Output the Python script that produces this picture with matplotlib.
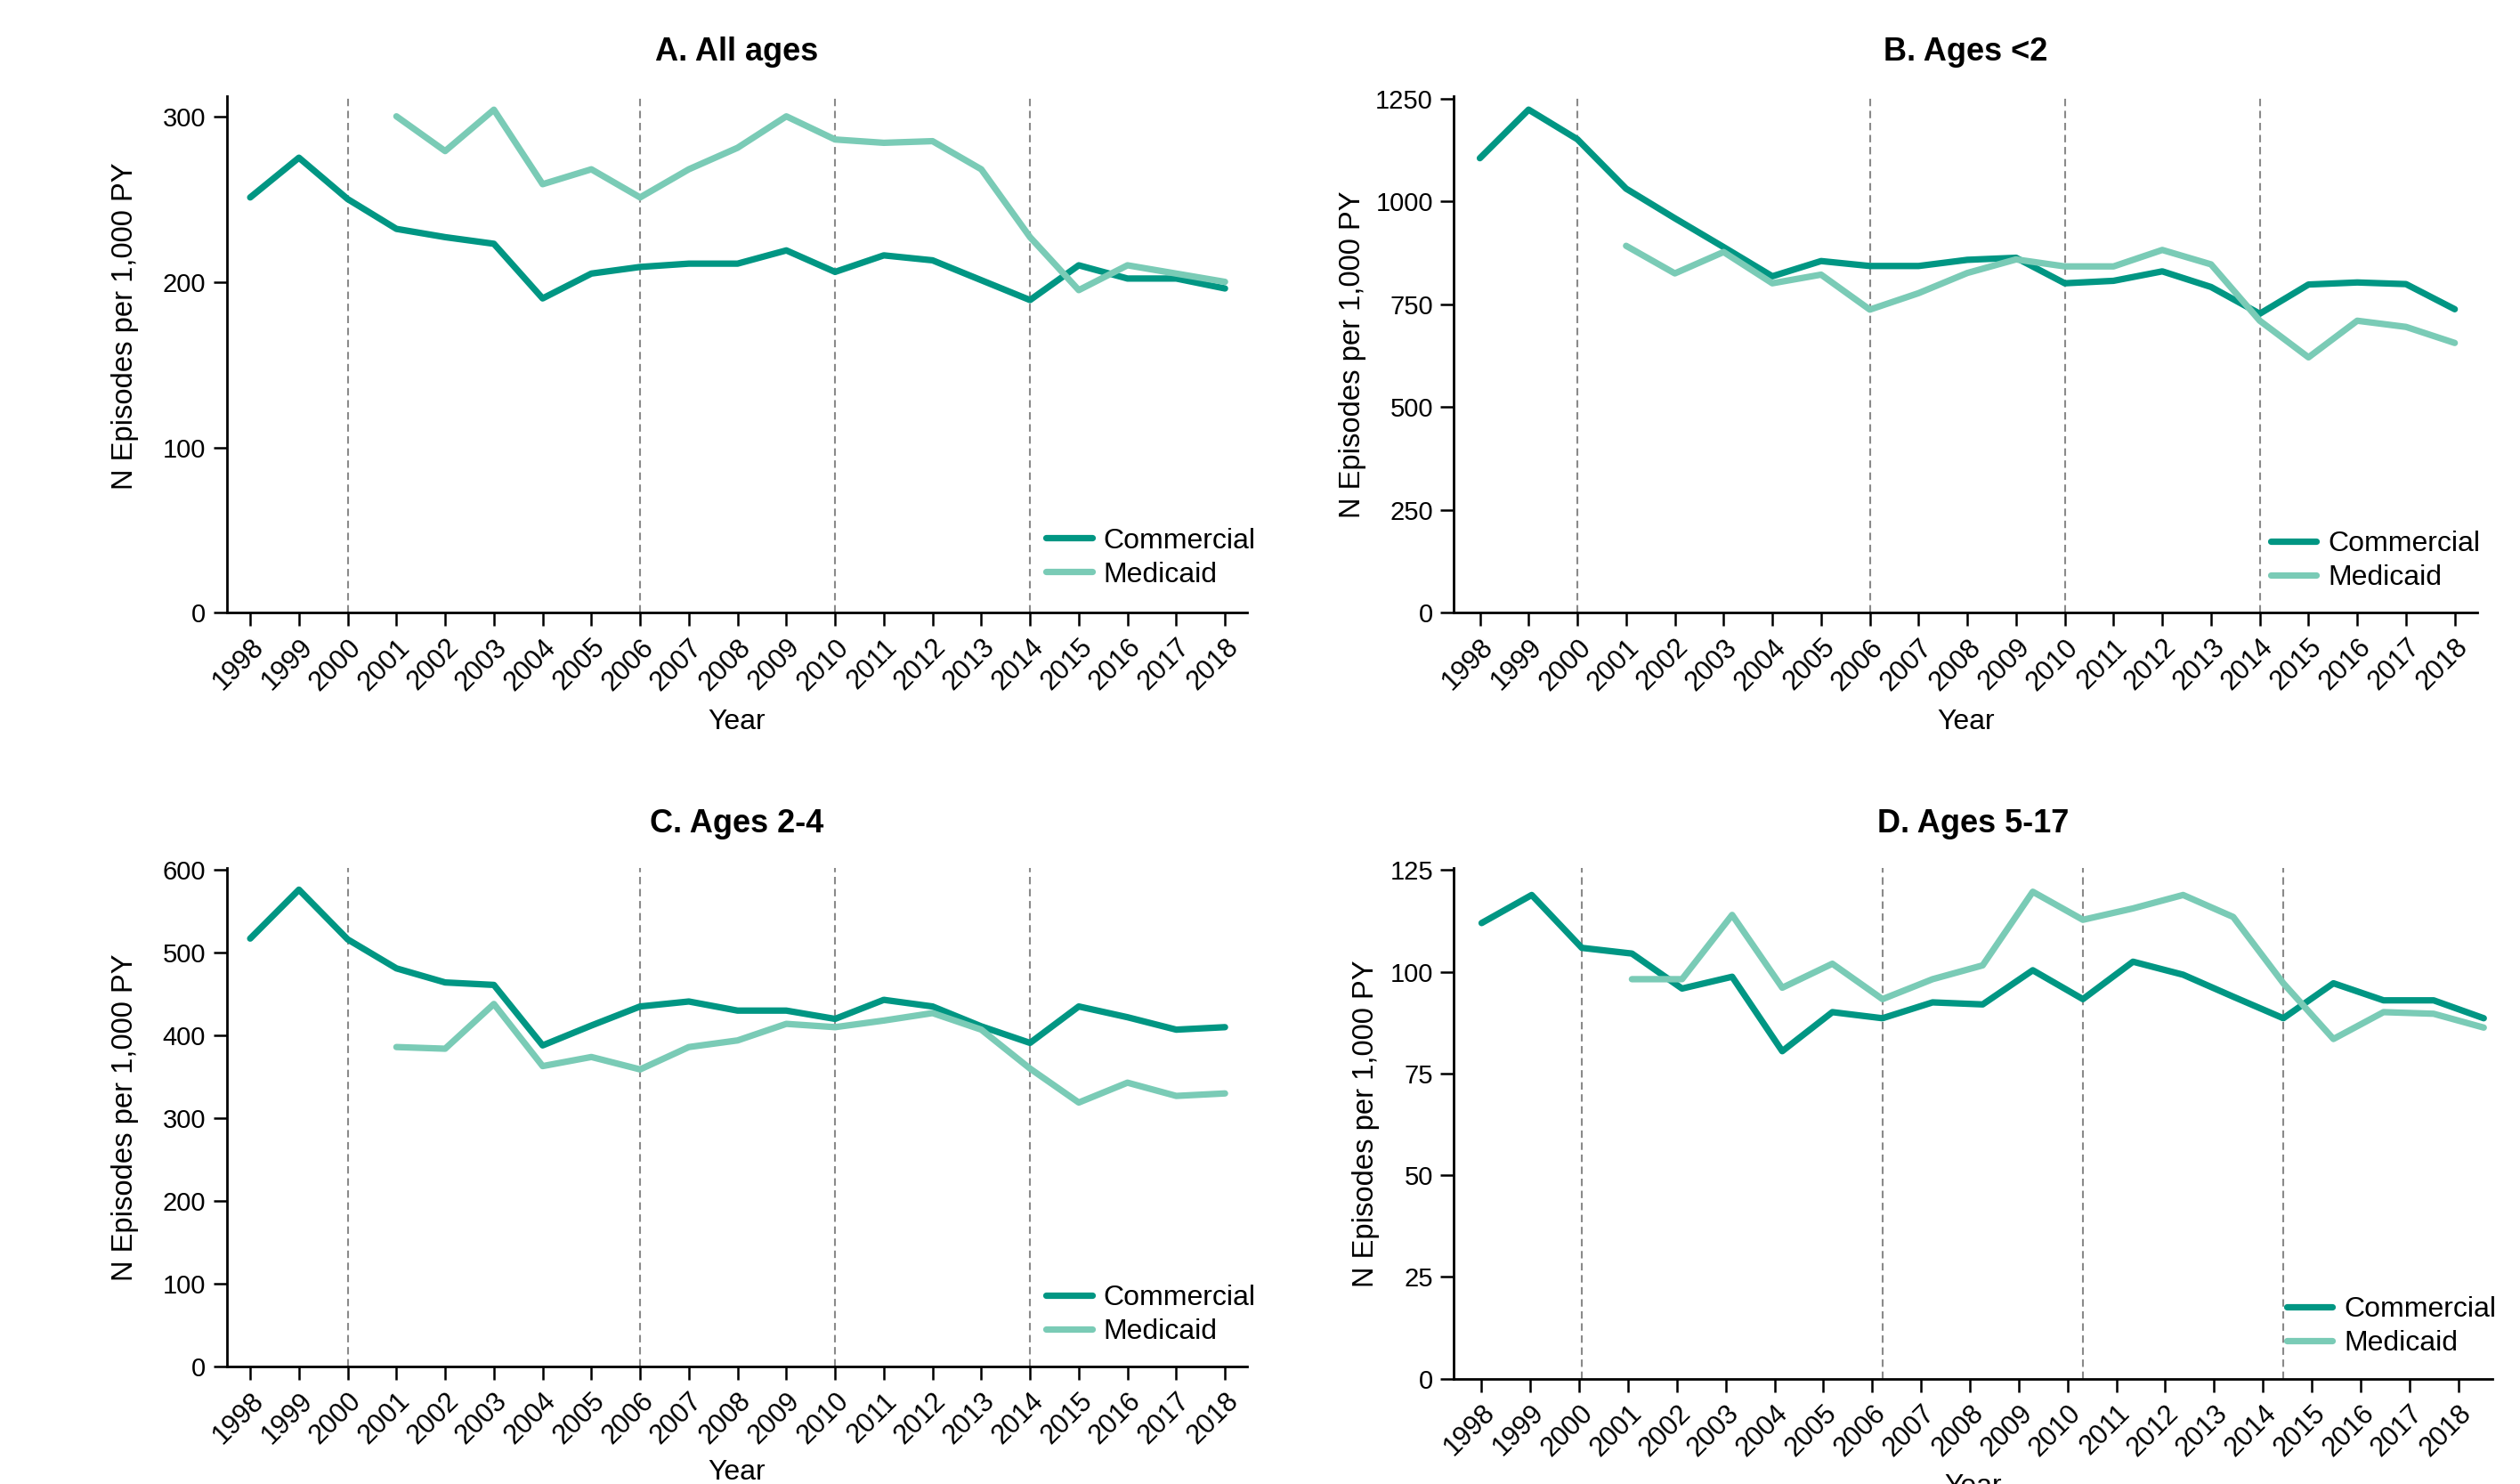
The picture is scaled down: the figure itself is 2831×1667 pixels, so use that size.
import numpy as np
import matplotlib
matplotlib.use("Agg")
import matplotlib.pyplot as plt

plt.rcParams["font.family"] = ["Liberation Sans", "DejaVu Sans"]

# ── Data ────────────────────────────────────────────────────────────────────
YEARS = list(range(1998, 2019))
YEARS_MEDICAID = list(range(2001, 2019))
POLICY_YEARS = [2000, 2006, 2010, 2014]

COM_ALL = [251, 275, 250, 232, 227, 223, 190, 205, 209, 211, 211,
           219, 206, 216, 213, 201, 189, 210, 202, 202, 196]
MED_ALL = [300, 279, 304, 259, 268, 251, 268, 281, 300, 286,
           284, 285, 268, 227, 195, 210, 205, 200]

COM_LT2 = [1105, 1223, 1151, 1031, 959, 889, 818, 855, 843, 843, 858,
           863, 801, 807, 830, 792, 727, 798, 803, 799, 738]
MED_LT2 = [892, 825, 877, 801, 822, 737, 777, 826, 859, 842,
           842, 882, 847, 710, 621, 710, 695, 656]

COM_2_4 = [517, 576, 516, 481, 464, 461, 388, 412, 435, 441, 430,
           430, 420, 443, 435, 411, 391, 435, 422, 407, 410]
MED_2_4 = [386, 384, 438, 363, 374, 359, 386, 394, 414, 410,
           418, 427, 407, 360, 319, 343, 327, 330]

COM_5_17 = [112.0, 118.9, 105.9, 104.5, 95.9, 98.8, 80.5, 90.1, 88.6, 92.5, 92.0,
            100.4, 93.3, 102.5, 99.3, 93.9, 88.6, 97.2, 93.0, 93.0, 88.6]
MED_5_17 = [98.2, 98.2, 114.0, 96.1, 102.0, 93.3, 98.2, 101.6, 119.7, 112.8,
            115.6, 118.9, 113.5, 97.2, 83.5, 90.1, 89.7, 86.3]

TITLES = ["A. All ages", "B. Ages <2", "C. Ages 2-4", "D. Ages 5-17"]
Y_TICKS = [
    [0, 100, 200, 300],
    [0, 250, 500, 750, 1000, 1250],
    [0, 100, 200, 300, 400, 500, 600],
    [0, 25, 50, 75, 100, 125],
]
Y_TOPS = [312, 1255, 602, 125.5]

# ── Style ───────────────────────────────────────────────────────────────────
COM_COLOR = "#009683"
MED_COLOR = "#7acbb6"
DASH_COLOR = "#8a8a8a"

# axes rectangles [left, bottom, width, height] in figure fractions
AX_RECTS = [
    [0.090, 0.587, 0.405, 0.348],
    [0.577, 0.587, 0.406, 0.348],
    [0.090, 0.079, 0.405, 0.336],
    [0.577, 0.071, 0.412, 0.344],
]
X_LIMS = [
    (1997.52, 2018.46),
    (1997.47, 2018.46),
    (1997.52, 2018.46),
    (1997.45, 2018.17),
]
# panel D in the source has its tick marks slightly compressed vs. the data
TICK_STEP = [1.0, 1.0, 1.0, 0.9745]
YLABEL_X = [-0.086, -0.086, -0.086, -0.072]
YLABEL_Y = [0.555, 0.5, 0.5, 0.5]
LEGEND_X = [1.019, 1.014, 1.019, 1.0145]
LEGEND_Y = [0.026, 0.02, 0.02, 0.021]

PANELS = [
    (COM_ALL, MED_ALL),
    (COM_LT2, MED_LT2),
    (COM_2_4, MED_2_4),
    (COM_5_17, MED_5_17),
]


def draw_panel(ax, idx):
    com, med = PANELS[idx]

    for yr in POLICY_YEARS:
        ax.axvline(yr, color=DASH_COLOR, lw=0.75, dashes=(4, 2.5), zorder=1)

    ax.plot(YEARS, com, color=COM_COLOR, lw=2.6, solid_capstyle="round",
            solid_joinstyle="round", label="Commercial", zorder=3)
    ax.plot(YEARS_MEDICAID, med, color=MED_COLOR, lw=2.6, solid_capstyle="round",
            solid_joinstyle="round", label="Medicaid", zorder=3)

    ax.set_xlim(*X_LIMS[idx])
    ax.set_ylim(0, Y_TOPS[idx])

    tick_pos = [1998 + i * TICK_STEP[idx] for i in range(len(YEARS))]
    ax.set_xticks(tick_pos)
    ax.set_xticklabels([str(y) for y in YEARS], rotation=45, ha="right",
                       rotation_mode="anchor", fontsize=11)
    ax.set_yticks(Y_TICKS[idx])
    ax.tick_params(axis="y", labelsize=10.5)
    ax.tick_params(length=5.5, width=0.9, direction="out", pad=3)

    for side in ["top", "right"]:
        ax.spines[side].set_visible(False)
    for side in ["left", "bottom"]:
        ax.spines[side].set_linewidth(1.0)

    ax.set_title(TITLES[idx], fontsize=13, fontweight="bold", pad=14.5)
    ax.set_xlabel("Year", fontsize=11.5)
    ax.xaxis.set_label_coords(0.5, -0.185)
    ax.set_ylabel("N Episodes per 1,000 PY", fontsize=11.8)
    ax.yaxis.set_label_coords(YLABEL_X[idx], YLABEL_Y[idx])

    ax.legend(loc="lower right", bbox_to_anchor=(LEGEND_X[idx], LEGEND_Y[idx]),
              frameon=False, fontsize=11.5, handlelength=1.6,
              handletextpad=0.4, labelspacing=0.25, borderaxespad=0)


def main():
    fig = plt.figure(figsize=(14.155, 8.335), dpi=200)
    for idx, rect in enumerate(AX_RECTS):
        ax = fig.add_axes(rect)
        draw_panel(ax, idx)
    fig.savefig("out.png", dpi=200, facecolor="white")
    plt.close(fig)


if __name__ == "__main__":
    main()
